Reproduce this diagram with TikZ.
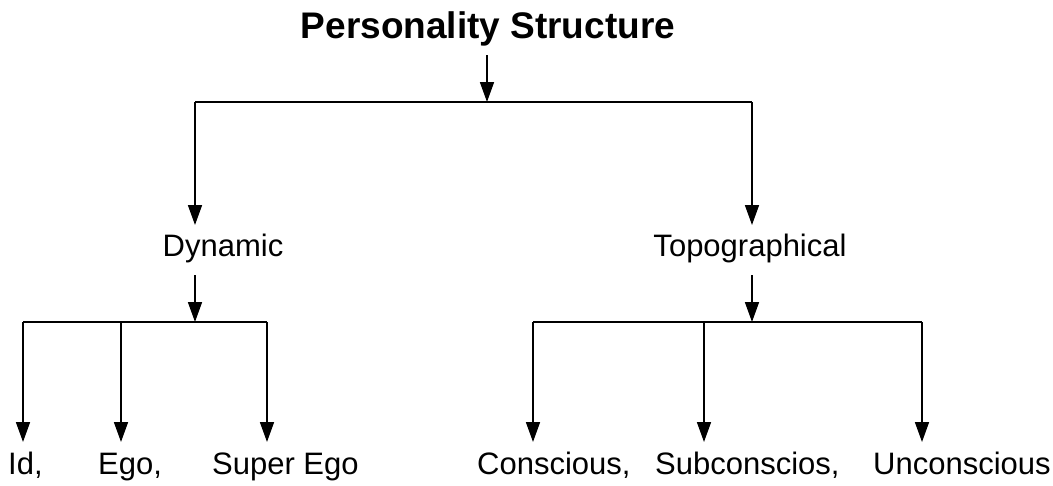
\documentclass[tikz,border=0pt]{standalone}
\usepackage{fontspec}
\setmainfont{Liberation Sans}
\usetikzlibrary{arrows.meta,positioning}

\tikzset{
	ttl/.style={inner sep=0pt,anchor=base,font=\bfseries\fontsize{37}{42}\selectfont},
	lbl/.style={inner sep=0pt,anchor=base,font=\fontsize{31}{36}\selectfont},
	leaf/.style={lbl,anchor=base west},
	arr/.style={line width=1.7pt,-{Triangle[length=20pt,width=14pt]}},
	bar/.style={line width=1.7pt},
}

\begin{document}
\begin{tikzpicture}[x=1pt,y=-1pt]
	\useasboundingbox (0,0) rectangle (1053,485);

	\node[ttl] (ps) at (488,38) {Personality Structure};
	\node[lbl] (dyn) at (223,256) {Dynamic};
	\node[lbl] (topo) at (750,256) {Topographical};

	\node[leaf] (id) at (8,474) {Id,};
	\node[leaf] (ego) at (98,474) {Ego,};
	\node[leaf] (sego) at (212,474) {Super Ego};
	\node[leaf] (cons) at (477,474) {Conscious,};
	\node[leaf] (subc) at (655,474) {Subconscios,};
	\node[leaf] (unc) at (873,474) {Unconscious};

	% top level
	\coordinate (ps0) at (487,55);
	\coordinate (j0) at (487,102);
	\coordinate (j0L) at (195,102);
	\coordinate (j0R) at (752,102);
	\coordinate (dynT) at (195,225);
	\coordinate (topoT) at (752,225);
	\draw[arr] (ps0) -- (j0);
	\draw[bar] (j0L) -- (j0R);
	\draw[arr] (j0L) -- (dynT);
	\draw[arr] (j0R) -- (topoT);

	% Dynamic
	\coordinate (dyn0) at (195,275);
	\coordinate (j1) at (195,322);
	\coordinate (j1L) at (23,322);
	\coordinate (j1M) at (121,322);
	\coordinate (j1R) at (267,322);
	\draw[arr] (dyn0) -- (j1);
	\draw[bar] (j1L) -- (j1R);
	\draw[arr] (j1L) -- (23,442) coordinate (idT);
	\draw[arr] (j1M) -- (121,442) coordinate (egoT);
	\draw[arr] (j1R) -- (267,442) coordinate (segoT);

	% Topographical
	\coordinate (topo0) at (752,275);
	\coordinate (j2) at (752,322);
	\coordinate (j2L) at (533,322);
	\coordinate (j2M) at (704,322);
	\coordinate (j2R) at (922,322);
	\draw[arr] (topo0) -- (j2);
	\draw[bar] (j2L) -- (j2R);
	\draw[arr] (j2L) -- (533,442) coordinate (consT);
	\draw[arr] (j2M) -- (704,442) coordinate (subcT);
	\draw[arr] (j2R) -- (922,442) coordinate (uncT);
\end{tikzpicture}
\end{document}
